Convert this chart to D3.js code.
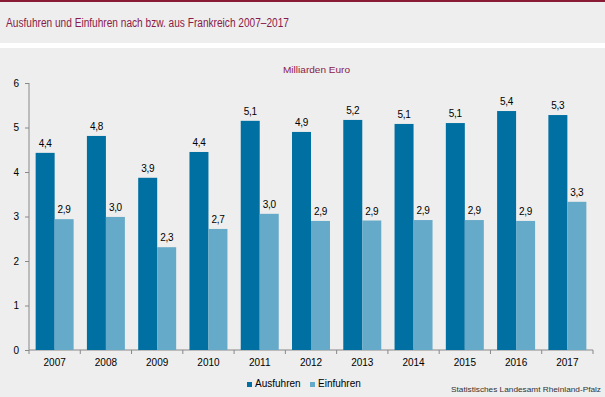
<!DOCTYPE html>
<html><head><meta charset="utf-8">
<script src="https://cdn.jsdelivr.net/npm/d3@7"></script>
<style>body{margin:0;background:#edeeed;}svg{display:block;font-family:"Liberation Sans",Arial,sans-serif;}</style>
</head><body><svg id="c" width="605" height="397"></svg>
<script>
const years = ["2007","2008","2009","2010","2011","2012","2013","2014","2015","2016","2017"];
const ausfuhren = [4.43, 4.81, 3.87, 4.45, 5.15, 4.90, 5.17, 5.08, 5.10, 5.37, 5.28];
const einfuhren = [2.94, 2.99, 2.31, 2.72, 3.06, 2.90, 2.91, 2.92, 2.92, 2.90, 3.33];
const ausLabels = ["4,4","4,8","3,9","4,4","5,1","4,9","5,2","5,1","5,1","5,4","5,3"];
const einLabels = ["2,9","3,0","2,3","2,7","3,0","2,9","2,9","2,9","2,9","2,9","3,3"];
const yTicks = [0,1,2,3,4,5,6];
const seriesNames = ["Ausfuhren","Einfuhren"];
const colors = ["#0070a2","#66aac9"];

const svg = d3.select("#c");
svg.append("rect").attr("x",0).attr("y",0).attr("width",605).attr("height",397).attr("fill","#edeeed");
svg.append("rect").attr("x",0).attr("y",0).attr("width",605).attr("height",2).attr("fill","#8a1a33");
svg.append("rect").attr("x",0).attr("y",43).attr("width",605).attr("height",5).attr("fill","#ffffff");
svg.append("text").attr("x",6).attr("y",27).attr("fill","#8a1a4a").attr("font-size","12px")
  .attr("textLength",283).attr("lengthAdjust","spacingAndGlyphs")
  .text("Ausfuhren und Einfuhren nach bzw. aus Frankreich 2007–2017");
svg.append("text").attr("x",283).attr("y",73).attr("fill","#8a1a4a")
  .attr("font-size","9.5px").attr("textLength",67).attr("lengthAdjust","spacingAndGlyphs").text("Milliarden Euro");

const x0 = d3.scaleBand().domain(years).range([29,593]).paddingInner(0).paddingOuter(0);
const x1 = d3.scaleBand().domain(seriesNames).range([0,x0.bandwidth()]).paddingInner(0).paddingOuter(0.35);
const y = d3.scaleLinear().domain([0,6]).range([350,83]);

// y axis
const ya = svg.append("g").attr("transform","translate(29,0)")
  .call(d3.axisLeft(y).tickValues(yTicks).tickSize(4).tickPadding(6).tickFormat(d3.format("d")));
ya.select(".domain").attr("stroke","#888").attr("d","M0,83V350");
ya.selectAll(".tick line").attr("stroke","#888");
ya.selectAll(".tick text").attr("font-size","10px").attr("fill","#000").attr("font-family","Liberation Sans, Arial, sans-serif");

// x axis
const xa = svg.append("g").attr("transform","translate(0,350)")
  .call(d3.axisBottom(x0).tickSize(0).tickPadding(9));
xa.select(".domain").attr("stroke","#888").attr("d","M29,0H593");
xa.selectAll(".tick text").attr("font-size","10px").attr("fill","#000").attr("font-family","Liberation Sans, Arial, sans-serif");
const bounds = years.map(d=>x0(d)).concat([x0.range()[1]]);
xa.selectAll("line.bnd").data(bounds).enter().append("line").attr("class","bnd")
  .attr("x1",d=>d).attr("x2",d=>d).attr("y1",0).attr("y2",4).attr("stroke","#888");

const data = years.map((yr,i)=>({yr, vals:[
  {s:"Ausfuhren",v:ausfuhren[i],l:ausLabels[i]},
  {s:"Einfuhren",v:einfuhren[i],l:einLabels[i]}]}));

const g = svg.append("g").selectAll("g").data(data).enter().append("g")
  .attr("transform",d=>`translate(${x0(d.yr)},0)`);
g.selectAll("rect").data(d=>d.vals).enter().append("rect")
  .attr("x",d=>x1(d.s)).attr("width",x1.bandwidth())
  .attr("y",d=>y(d.v)).attr("height",d=>y(0)-y(d.v))
  .attr("fill",(d,i)=>colors[i]);
g.selectAll("text").data(d=>d.vals).enter().append("text")
  .attr("x",d=>x1(d.s)+x1.bandwidth()/2).attr("y",d=>y(d.v)-6)
  .attr("text-anchor","middle").attr("font-size","10px").attr("letter-spacing","-0.3px").attr("fill","#000").text(d=>d.l);

// legend
const leg = svg.append("g");
const legX = [247, 310];
seriesNames.forEach((n,i)=>{
  leg.append("rect").attr("x",legX[i]).attr("y",382).attr("width",5).attr("height",5).attr("fill",colors[i]);
  leg.append("text").attr("x",legX[i]+8).attr("y",387).attr("font-size","10px").attr("fill","#000").text(n);
});

svg.append("text").attr("x",451).attr("y",392).attr("font-size","8px")
  .attr("fill","#333").attr("textLength",150).attr("lengthAdjust","spacingAndGlyphs").text("Statistisches Landesamt Rheinland-Pfalz");
</script></body></html>
